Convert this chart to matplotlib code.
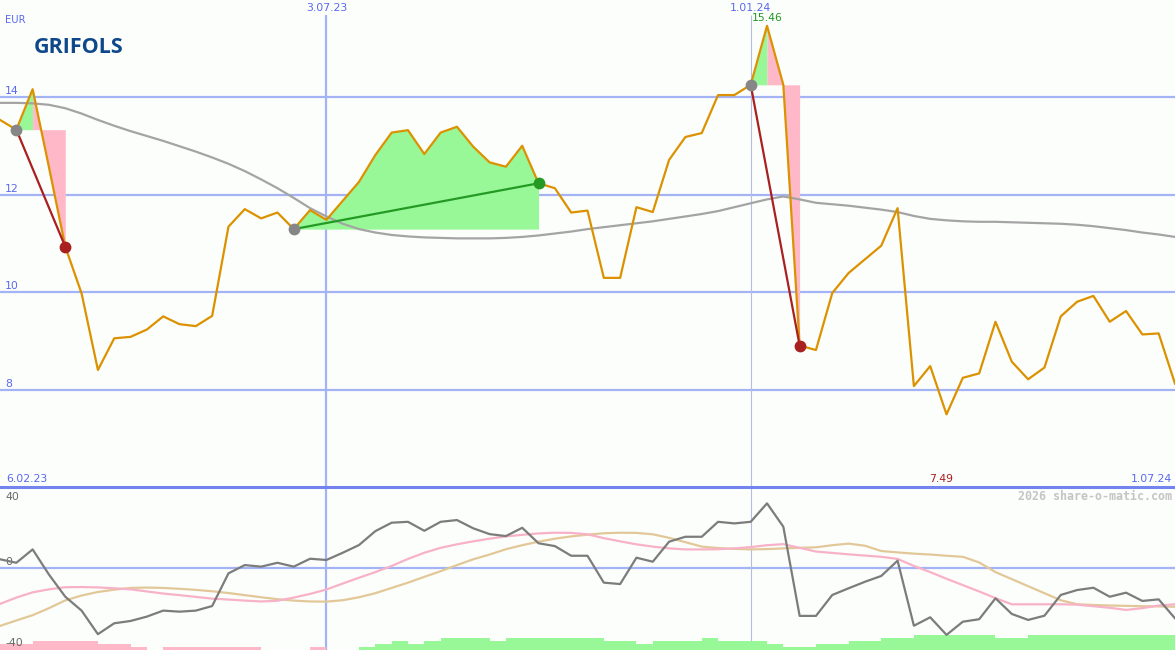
import numpy as np
import matplotlib
matplotlib.use("Agg")
import matplotlib.pyplot as plt

# weekly closes, 13.02.23 .. 1.07.24
price = [13.53, 13.33, 14.16, 12.56, 10.93, 9.97, 8.40, 9.05, 9.08, 9.23,
         9.50, 9.34, 9.30, 9.51, 11.34, 11.70, 11.51, 11.63, 11.29, 11.68,
         11.48, 11.87, 12.26, 12.81, 13.27, 13.32, 12.83, 13.27, 13.39, 12.98,
         12.66, 12.57, 13.00, 12.23, 12.13, 11.63, 11.67, 10.29, 10.29, 11.74,
         11.64, 12.71, 13.18, 13.26, 14.04, 14.04, 14.25, 15.46, 14.25, 8.90,
         8.81, 9.98, 10.39, 10.67, 10.95, 11.72, 8.07, 8.48, 7.49, 8.24,
         8.33, 9.39, 8.57, 8.21, 8.45, 9.50, 9.80, 9.92, 9.39, 9.61,
         9.13, 9.15, 8.12]

# long moving average (grey)
ma_long = [13.88, 13.88, 13.87, 13.84, 13.77, 13.66, 13.53, 13.41, 13.30, 13.20,
           13.10, 12.99, 12.88, 12.76, 12.63, 12.48, 12.31, 12.13, 11.93, 11.72,
           11.55, 11.40, 11.29, 11.22, 11.17, 11.14, 11.12, 11.11, 11.10, 11.10,
           11.10, 11.11, 11.13, 11.16, 11.20, 11.24, 11.29, 11.33, 11.37, 11.41,
           11.45, 11.50, 11.55, 11.60, 11.66, 11.74, 11.82, 11.90, 11.96, 11.90,
           11.83, 11.80, 11.77, 11.73, 11.69, 11.64, 11.56, 11.50, 11.47, 11.45,
           11.44, 11.44, 11.43, 11.42, 11.41, 11.40, 11.38, 11.35, 11.31, 11.27,
           11.22, 11.18, 11.13]

# oscillator panel
momentum = [4.8, 2.8, 10.4, -3.9, -16.5, -24.4, -37.8, -31.6, -30.3, -27.8,
            -24.4, -25.0, -24.4, -21.8, -3.2, 1.5, 0.6, 2.8, 0.6, 5.1,
            4.4, 8.5, 12.9, 20.8, 25.6, 26.1, 21.0, 26.1, 27.1, 22.4,
            19.1, 18.0, 22.7, 13.9, 12.3, 6.8, 6.8, -8.5, -9.3, 5.7,
            3.4, 14.8, 17.6, 17.6, 26.1, 25.2, 26.1, 36.6, 23.3, -27.4,
            -27.4, -15.5, -11.7, -8.0, -4.7, 4.0, -33.0, -28.2, -38.2, -30.7,
            -29.3, -17.4, -26.3, -29.7, -27.3, -15.5, -12.7, -11.4, -16.5, -14.2,
            -18.9, -18.0, -28.8]
signal_fast = [-20.6, -17.0, -14.0, -12.3, -11.1, -11.0, -11.2, -11.7, -12.3, -13.5,
               -14.7, -15.6, -16.6, -17.6, -18.1, -18.7, -19.2, -18.8, -17.0, -14.9,
               -12.4, -9.0, -5.7, -2.5, 1.0, 5.0, 8.5, 11.3, 13.3, 15.0,
               16.5, 17.8, 18.7, 19.5, 19.9, 19.8, 19.0, 16.8, 15.0, 13.3,
               12.0, 11.0, 10.4, 10.4, 10.5, 11.0, 11.7, 12.8, 13.4, 11.3,
               9.2, 8.4, 7.6, 6.9, 6.2, 5.0, 1.0, -2.5, -6.3, -9.9,
               -13.5, -17.3, -20.8, -20.8, -20.8, -20.8, -21.0, -21.9, -22.8, -24.0,
               -23.0, -21.5, -20.8]
signal_slow = [-33.1, -30.0, -27.0, -23.0, -18.6, -15.8, -13.8, -12.5, -11.5, -11.3,
               -11.5, -12.0, -12.6, -13.4, -14.4, -15.6, -16.8, -17.9, -18.7, -19.2,
               -19.3, -18.5, -16.8, -14.5, -11.5, -8.5, -5.2, -2.0, 1.5, 4.8,
               7.5, 10.5, 12.8, 14.8, 16.5, 17.8, 18.8, 19.6, 19.9, 19.8,
               19.0, 17.0, 14.5, 12.0, 11.2, 10.7, 10.4, 10.6, 11.0, 11.3,
               11.6, 12.8, 13.7, 12.5, 9.5, 8.7, 8.0, 7.5, 6.8, 6.2,
               3.0, -2.5, -6.5, -10.5, -14.5, -18.5, -20.8, -21.2, -21.5, -21.7,
               -21.9, -22.0, -22.2]
# trend strength blocks along the bottom (negative = pink)
trend_level = [-2, -2, -3, -3, -3, -3, -2, -2, -1, 0,
               -1, -1, -1, -1, -1, -1, 0, 0, 0, -1,
               0, 0, 1, 2, 3, 2, 3, 4, 4, 4,
               3, 4, 4, 4, 4, 4, 4, 3, 3, 2,
               3, 3, 3, 4, 3, 3, 3, 2, 1, 1,
               2, 2, 3, 3, 4, 4, 5, 5, 5, 5,
               5, 4, 4, 5, 5, 5, 5, 5, 5, 5,
               5, 5]

# trades: (entry week, exit week)
trades = [(1, 4), (18, 33), (46, 49)]
date_marks = {20: "3.07.23", 46: "1.01.24"}
start_label = "6.02.23"
end_label = "1.07.24"
price_ticks = [8, 10, 12, 14]
osc_ticks = [40, 0, -40]

BG = "#fcfefc"
GRID = "#a3b3f3"
BLUE_TXT = "#5a68f0"
GREEN_FILL = "#98f898"
PINK_FILL = "#ffb8c8"
ORANGE = "#dc9200"
FS = 7.8

x = np.arange(len(price))
price = np.array(price)

fig = plt.figure(figsize=(11.75, 6.5), dpi=100, facecolor=BG)
ax = fig.add_axes([0, 163 / 650, 1, 487 / 650])
ax2 = fig.add_axes([0, 0, 1, 163 / 650])
for a in (ax, ax2):
    a.set_facecolor(BG)
    a.set_xlim(0, len(price) - 1)
    a.set_xticks([])
    a.set_yticks([])
    for s in a.spines.values():
        s.set_visible(False)

ax.set_ylim(6.0, 15.99)
ax2.set_ylim(-46.8, 45.9)

# grid
for v in price_ticks:
    ax.axhline(v, color=GRID, lw=1.6, zorder=1)
    ax.annotate(str(v), (0, v), xytext=(5, 1), textcoords="offset pixels",
                color=BLUE_TXT, fontsize=FS, va="bottom", ha="left")
ax2.axhline(0, color=GRID, lw=1.6, zorder=1)
ax2.spines["top"].set_visible(True)
ax2.spines["top"].set_color("#7484ee")
ax2.spines["top"].set_linewidth(2.2)

for wk, lab in date_marks.items():
    thick = wk == 20
    lw = 1.6 if thick else 0.8
    col = GRID if thick else "#b4bce6"
    ax.vlines(wk, 6.0, 15.68, color=col, lw=lw, zorder=1)
    ax2.axvline(wk, color=col, lw=lw, zorder=1)
    ax.annotate(lab, (wk, 15.99), xytext=(0, -3), textcoords="offset pixels",
                color=BLUE_TXT, fontsize=FS, ha="center", va="top")

# trade fills
for e, q in trades:
    entry = price[e]
    seg = slice(e, q + 1)
    if price[q] >= entry:
        ax.fill_between(x[seg], price[seg], entry, color=GREEN_FILL, lw=0, zorder=2)
    else:
        top = e + int(np.argmax(price[seg]))
        ax.fill_between(x[e:top + 1], price[e:top + 1], entry, color=GREEN_FILL, lw=0, zorder=2)
        ax.fill_between(x[top:q + 1], price[top:q + 1], entry, color=PINK_FILL, lw=0, zorder=2)

ax.plot(x, ma_long, color="#a4a4a4", lw=1.6, zorder=3)
ax.plot(x, price, color=ORANGE, lw=1.6, zorder=4)

for e, q in trades:
    win = price[q] >= price[e]
    col = "#249a24" if win else "#a82020"
    ax.plot([x[e], x[q]], [price[e], price[q]], color=col, lw=1.6, zorder=5)
    ax.plot(x[e], price[e], "o", color="#868686", ms=8.5, mec="none", zorder=6)
    ax.plot(x[q], price[q], "o", color=col, ms=8.5, mec="none", zorder=6)

# high / low labels
hi = int(np.argmax(price))
lo = int(np.argmin(price))
ax.annotate(f"{price[hi]:.2f}", (hi, price[hi]), xytext=(0, 3), textcoords="offset pixels",
            color="#229922", fontsize=FS, ha="center", va="bottom")
ax.annotate(f"{price[lo]:.2f}", (lo, 6.0), xytext=(-5, 3), textcoords="offset pixels",
            color="#a82020", fontsize=FS, ha="center", va="bottom")
ax.annotate(start_label, (0, 6.0), xytext=(6, 3), textcoords="offset pixels",
            color=BLUE_TXT, fontsize=FS, ha="left", va="bottom")
ax.annotate(end_label, (len(price) - 1, 6.0), xytext=(-3, 3), textcoords="offset pixels",
            color=BLUE_TXT, fontsize=FS, ha="right", va="bottom")

ax.text(5 / 1175, 1 - 20 / 487, "EUR", transform=ax.transAxes, color=BLUE_TXT,
        fontsize=7.2, va="center", ha="left")
fig.text(34 / 1175, 1 - 53 / 650, "GRIFOLS", color="#0f488a", fontsize=15.5,
         fontweight="bold", family="Open Sans", va="baseline", ha="left")

# oscillator panel
bar_unit = 1.7
ax2.bar(x[:-1], np.abs(trend_level) * bar_unit, width=1.0, align="edge", bottom=-46.8,
        color=[PINK_FILL if t < 0 else GREEN_FILL for t in trend_level], lw=0, zorder=2)
ax2.plot(x, signal_slow, color="#e2c898", lw=1.6, zorder=3)
ax2.plot(x, signal_fast, color="#f8b2c8", lw=1.6, zorder=3)
ax2.plot(x, momentum, color="#7c7c7c", lw=1.6, zorder=4)

for v in osc_ticks:
    va = "center" if v == 40 else ("bottom" if v == 0 else "top")
    ax2.annotate(str(v), (0, v), xytext=(5, 1 if v == 0 else 0), textcoords="offset pixels",
                 color="#666666", fontsize=FS, va=va, ha="left")
ax2.text(1 - 3 / 1175, 1 - 9 / 163, "2026 share-o-matic.com", transform=ax2.transAxes,
         color="#c4c4c4", fontsize=8.4, family="DejaVu Sans Mono", fontweight="bold",
         ha="right", va="center")

fig.savefig("out.png", dpi=100, facecolor=BG)
